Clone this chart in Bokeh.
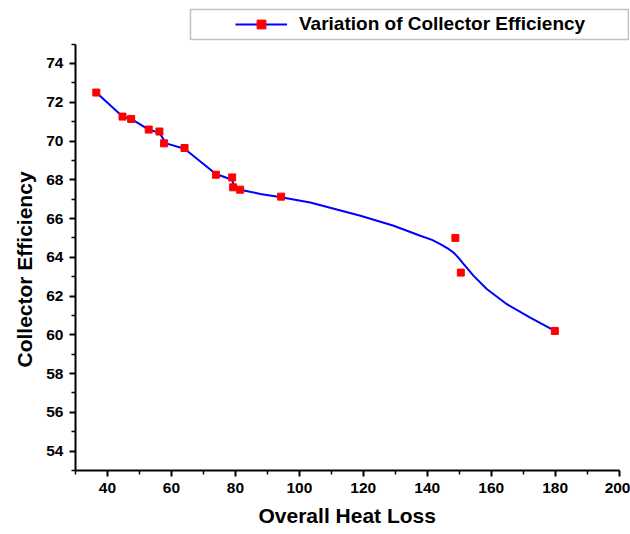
from bokeh.plotting import figure
from bokeh.models import (FixedTicker, Range1d, Legend, LegendItem, Title, BoxAnnotation)
from bokeh.embed import file_html
from bokeh.resources import INLINE

# Measured points
heat_loss = [36.5, 44.7, 47.4, 52.9, 56.25, 57.7, 64.1, 73.9, 79.0, 79.3, 81.5, 94.3, 148.8, 150.5, 179.9]
efficiency = [72.5, 71.26, 71.14, 70.59, 70.49, 69.88, 69.64, 68.26, 68.12, 67.61, 67.49, 67.13, 65.0, 63.21, 60.2]

# Smoothed curve
curve_x = [36.5, 44.7, 47.4, 52.9, 56.25, 58.3, 64.1, 73.9, 79.0, 79.6, 81.5, 87.8, 94.3, 103.4, 119.1,
           129.5, 137.8, 141.5, 144.1, 146.5, 148.2, 149.8, 151.4, 154.5, 158.7, 164.9, 172.2, 179.9]
curve_y = [72.5, 71.26, 71.14, 70.59, 70.42, 69.88, 69.6, 68.3, 68.0, 67.6, 67.49, 67.27, 67.1, 66.83, 66.14,
           65.63, 65.11, 64.9, 64.68, 64.45, 64.25, 63.97, 63.65, 63.04, 62.35, 61.58, 60.89, 60.2]

x_ticks = [40, 60, 80, 100, 120, 140, 160, 180, 200]
x_minor = [30, 50, 70, 90, 110, 130, 150, 170, 190]
y_ticks = [54, 56, 58, 60, 62, 64, 66, 68, 70, 72, 74]
y_minor = [53, 55, 57, 59, 61, 63, 65, 67, 69, 71, 73, 75]

FONT = "Liberation Sans"

# frame spans the canvas top/right so the legend box above the axes is not clipped
p = figure(width=630, height=534, output_backend="svg", toolbar_location=None,
           x_range=Range1d(30, 203.56), y_range=Range1d(53, 77.25),
           min_border_left=75, min_border_right=0, min_border_top=0, min_border_bottom=64)
p.outline_line_color = None
p.xgrid.visible = False
p.ygrid.visible = False
p.background_fill_color = "white"
p.border_fill_color = "white"

line_r = p.line(curve_x, curve_y, line_color="#0000ff", line_width=2)
pts_r = p.scatter(heat_loss, efficiency, marker="square", size=7,
                  fill_color="#ff0000", line_color="#ff0000")

for ax, ticks, minor in ((p.xaxis[0], x_ticks, x_minor), (p.yaxis[0], y_ticks, y_minor)):
    ax.ticker = FixedTicker(ticks=ticks, minor_ticks=minor)
    ax.axis_line_width = 2
    ax.axis_line_color = "black"
    ax.major_tick_line_width = 2
    ax.minor_tick_line_width = 1.5
    ax.major_tick_in = 0
    ax.minor_tick_in = 0
    ax.major_tick_out = 6
    ax.minor_tick_out = 4
    ax.major_label_text_font = FONT
    ax.major_label_text_font_style = "bold"
    ax.major_label_text_font_size = "15.5px"
    ax.major_label_text_color = "black"
    ax.major_label_standoff = 6

p.xaxis.bounds = (30, 200)
p.yaxis.bounds = (53, 75)

# axis titles as side titles so they can be offset like the reference
xtitle = Title(text="Overall Heat Loss", align="left", offset=183, standoff=12,
               text_font=FONT, text_font_style="bold", text_font_size="21px", text_color="black")
p.add_layout(xtitle, "below")
ytitle = Title(text="Collector Efficiency", align="left", offset=103, standoff=16,
               text_font=FONT, text_font_style="bold", text_font_size="21px", text_color="black")
p.add_layout(ytitle, "left")

# legend border box
box = BoxAnnotation(left=65.96, right=202.9, top=76.79, bottom=75.24,
                    fill_alpha=0, line_color="#333333", line_width=1.5)
p.add_layout(box)

legend = Legend(items=[LegendItem(label="Variation of Collector Efficiency", renderers=[line_r, pts_r])],
                location=(160, 435), padding=0, margin=0, glyph_width=52, glyph_height=22,
                label_height=22, label_standoff=12,
                label_text_font=FONT, label_text_font_style="bold", label_text_font_size="19px",
                label_text_color="black", border_line_alpha=0, background_fill_alpha=0)
p.add_layout(legend, "center")

open("out.html", "w").write(file_html(p, INLINE))
